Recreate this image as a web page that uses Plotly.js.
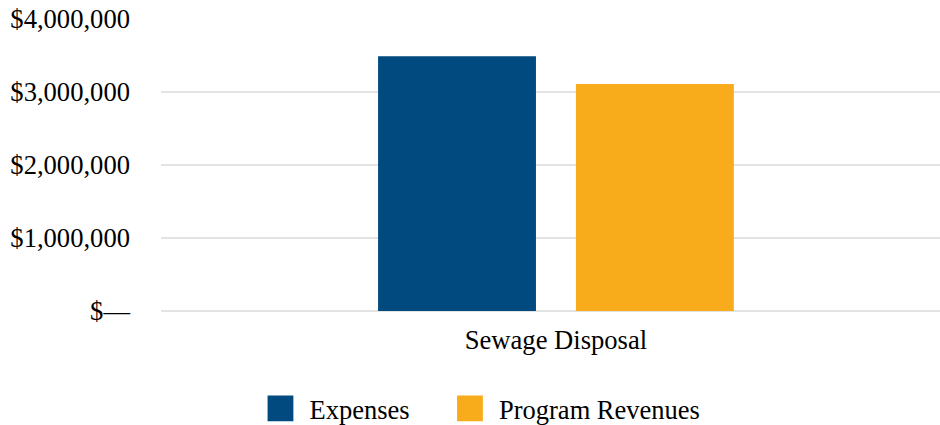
<!DOCTYPE html>
<html>
<head>
<meta charset="utf-8">
<script src="https://cdn.plot.ly/plotly-3.0.1.min.js"></script>
<style>
html,body{margin:0;padding:0;background:#fff;}
#chart{width:940px;height:425px;}
.legendpoints path{transform:translate(20px,0px) scale(2.15);}
</style>
</head>
<body>
<div id="chart"></div>
<script>
const categories = ["Sewage Disposal"];
const expenses = [3490000];
const programRevenues = [3110000];
const seriesNames = ["Expenses", "Program Revenues"];
const tickValues = [0, 1000000, 2000000, 3000000, 4000000];
const tickLabels = ["$\u2014", "$1,000,000", "$2,000,000", "$3,000,000", "$4,000,000"];

function mkFont(s) { return {family: "Liberation Serif", size: s || 26, color: "#000"}; }

const data = [
  {type: "bar", name: seriesNames[0], x: categories, y: expenses, marker: {color: "#004A7F"}, hoverinfo: "none", legend: "legend"},
  {type: "bar", name: seriesNames[1], x: categories, y: programRevenues, marker: {color: "#F9AC1B"}, hoverinfo: "none", legend: "legend2"}
];

function mkLegend(xpos) {
  return {orientation: "h", xref: "container", yref: "container", x: xpos, xanchor: "left", y: 0.0385, yanchor: "middle",
          font: mkFont(26.5), itemwidth: 39, bgcolor: "rgba(0,0,0,0)"};
}

const layout = {
  width: 940, height: 425,
  margin: {l: 161, r: 0, t: 19, b: 114},
  paper_bgcolor: "#fff", plot_bgcolor: "#fff",
  font: mkFont(26),
  barmode: "group",
  bargap: 0.492,
  bargroupgap: 0.202,
  showlegend: true,
  legend: mkLegend(0.2771),
  legend2: mkLegend(0.4787),
  xaxis: {type: "category", range: [-0.507, 0.493], showgrid: false, zeroline: false, showline: false, ticks: "", tickfont: mkFont(26.6), ticklabelstandoff: 10, fixedrange: true},
  yaxis: {range: [0, 4000000], tickvals: tickValues, ticktext: tickLabels, showgrid: true, gridcolor: "#e3e3e3", gridwidth: 1.5, zeroline: true, zerolinecolor: "#e3e3e3", zerolinewidth: 1.5, showline: false, ticks: "", ticklabelstandoff: 30, tickfont: mkFont(26.6), fixedrange: true}
};

Plotly.newPlot("chart", data, layout, {staticPlot: true, displayModeBar: false});
</script>
</body>
</html>
